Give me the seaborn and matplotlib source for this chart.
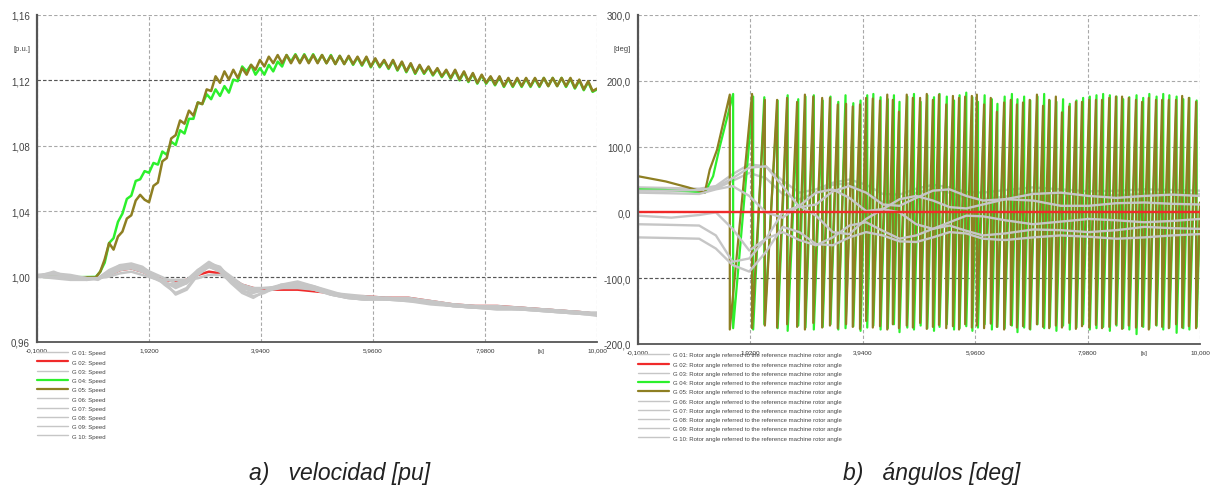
import numpy as np
import matplotlib
matplotlib.use("Agg")
import matplotlib.pyplot as plt
import seaborn as sns
from matplotlib.lines import Line2D

# ---------------- data ----------------

names = ["G 01", "G 02", "G 03", "G 04", "G 05", "G 06", "G 07", "G 08", "G 09", "G 10"]

# speed [p.u.] - slow machines (coarse time grid)
t_grey_speed = [-0.1, 0.2, 0.5, 0.8, 1.0, 1.2, 1.4, 1.6, 1.8, 2.0, 2.2, 2.4, 2.6, 2.8,
                3.0, 3.2, 3.4, 3.6, 3.8, 4.0, 4.3, 4.6, 4.9, 5.2, 5.5, 5.8, 6.2, 6.6,
                7.0, 7.4, 7.8, 8.2, 8.6, 9.0, 9.4, 9.8, 10.0]
speed_g01 = [1.000, 1.003, 0.999, 0.998, 0.999, 1.003, 1.007, 1.008, 1.006, 1.001, 0.995, 0.990,
             0.993, 1.002, 1.008, 1.006, 0.998, 0.991, 0.990, 0.992, 0.995, 0.996, 0.993, 0.989,
             0.987, 0.987, 0.987, 0.986, 0.984, 0.982, 0.981, 0.981, 0.981, 0.980, 0.979, 0.978, 0.977]
speed_g02 = [1.000, 1.000, 0.999, 0.999, 0.999, 1.001, 1.004, 1.005, 1.003, 1.000, 0.998, 0.997,
             0.998, 1.001, 1.003, 1.002, 0.999, 0.995, 0.993, 0.992, 0.992, 0.992, 0.991, 0.990,
             0.988, 0.988, 0.987, 0.987, 0.985, 0.983, 0.982, 0.982, 0.981, 0.980, 0.979, 0.978, 0.977]
speed_g03 = [1.000, 1.001, 1.000, 0.999, 0.998, 1.002, 1.006, 1.007, 1.004, 0.999, 0.996, 0.995,
             0.997, 1.003, 1.006, 1.004, 0.999, 0.994, 0.992, 0.993, 0.994, 0.995, 0.993, 0.990,
             0.988, 0.987, 0.986, 0.986, 0.984, 0.983, 0.981, 0.980, 0.980, 0.979, 0.978, 0.977, 0.977]
speed_g06 = [1.000, 1.000, 0.999, 0.999, 0.999, 1.000, 1.002, 1.003, 1.001, 0.999, 0.998, 0.998,
             0.998, 0.999, 1.001, 1.001, 0.998, 0.995, 0.993, 0.993, 0.993, 0.993, 0.992, 0.990,
             0.989, 0.988, 0.987, 0.986, 0.985, 0.983, 0.982, 0.981, 0.980, 0.980, 0.979, 0.978, 0.977]
speed_g07 = [1.001, 1.002, 1.000, 0.999, 0.999, 1.004, 1.007, 1.006, 1.003, 1.001, 0.997, 0.993,
             0.996, 1.004, 1.009, 1.005, 0.997, 0.992, 0.988, 0.990, 0.995, 0.997, 0.994, 0.990,
             0.987, 0.986, 0.987, 0.987, 0.985, 0.983, 0.982, 0.982, 0.981, 0.980, 0.979, 0.978, 0.977]
speed_g08 = [1.000, 0.999, 0.998, 0.998, 0.999, 1.002, 1.005, 1.006, 1.004, 1.000, 0.996, 0.994,
             0.996, 1.002, 1.006, 1.004, 0.998, 0.993, 0.991, 0.991, 0.993, 0.994, 0.992, 0.989,
             0.987, 0.986, 0.986, 0.985, 0.983, 0.982, 0.981, 0.980, 0.980, 0.979, 0.978, 0.977, 0.976]
speed_g09 = [1.000, 1.002, 1.001, 0.999, 0.999, 1.003, 1.006, 1.007, 1.005, 1.002, 0.999, 0.996,
             0.998, 1.004, 1.007, 1.005, 1.000, 0.995, 0.992, 0.991, 0.994, 0.996, 0.994, 0.991,
             0.988, 0.987, 0.987, 0.986, 0.984, 0.982, 0.981, 0.981, 0.981, 0.980, 0.979, 0.978, 0.978]
speed_g10 = [1.000, 1.000, 1.000, 0.999, 0.999, 1.001, 1.004, 1.005, 1.003, 1.000, 0.997, 0.989,
             0.992, 1.001, 1.006, 1.003, 0.996, 0.990, 0.987, 0.991, 0.994, 0.995, 0.992, 0.989,
             0.987, 0.986, 0.986, 0.985, 0.984, 0.982, 0.981, 0.981, 0.980, 0.979, 0.978, 0.977, 0.977]

# speed [p.u.] - the two machines that lose step (sampled every 0.08 s from 1.04 s)
t_fast_pre = [-0.1, 0.4, 0.96]
speed_g04_pre = [1.000, 0.9995, 0.9998]
speed_g05_pre = [1.000, 0.9995, 0.9995]
speed_g04 = [1.0030, 1.0085, 1.0205, 1.0235, 1.0335, 1.0385, 1.0475, 1.0495, 1.0585, 1.0595,
             1.0645, 1.0635, 1.0695, 1.0685, 1.0765, 1.0745, 1.0825, 1.0805, 1.0895, 1.0875,
             1.0965, 1.0965, 1.1065, 1.1055, 1.1115, 1.1085, 1.1145, 1.1105, 1.1165, 1.1125,
             1.1205, 1.1195, 1.1285, 1.1255, 1.1295, 1.1235, 1.1275, 1.1235, 1.1295, 1.1255,
             1.1315, 1.1285, 1.1355, 1.1315, 1.1360, 1.1310, 1.1360, 1.1310, 1.1360, 1.1310,
             1.1355, 1.1305, 1.1355, 1.1300, 1.1350, 1.1300, 1.1345, 1.1295, 1.1340, 1.1290,
             1.1340, 1.1280, 1.1330, 1.1280, 1.1320, 1.1270, 1.1320, 1.1260, 1.1310, 1.1250,
             1.1300, 1.1240, 1.1290, 1.1240, 1.1280, 1.1230, 1.1270, 1.1220, 1.1260, 1.1210,
             1.1260, 1.1200, 1.1250, 1.1190, 1.1240, 1.1180, 1.1230, 1.1180, 1.1220, 1.1170,
             1.1220, 1.1160, 1.1210, 1.1160, 1.1210, 1.1160, 1.1210, 1.1160, 1.1210, 1.1160,
             1.1215, 1.1165, 1.1215, 1.1165, 1.1215, 1.1160, 1.1210, 1.1150, 1.1200, 1.1140,
             1.1190, 1.1130, 1.1145]
speed_g05 = [1.0030, 1.0105, 1.0205, 1.0165, 1.0245, 1.0275, 1.0355, 1.0375, 1.0465, 1.0500,
             1.0470, 1.0455, 1.0555, 1.0575, 1.0705, 1.0725, 1.0845, 1.0865, 1.0955, 1.0935,
             1.1015, 1.0985, 1.1065, 1.1055, 1.1145, 1.1135, 1.1225, 1.1185, 1.1255, 1.1205,
             1.1265, 1.1215, 1.1275, 1.1235, 1.1295, 1.1265, 1.1325, 1.1285, 1.1345, 1.1305,
             1.1355, 1.1305, 1.1355, 1.1305, 1.1355, 1.1305, 1.1355, 1.1305, 1.1355, 1.1305,
             1.1355, 1.1305, 1.1350, 1.1300, 1.1350, 1.1300, 1.1350, 1.1300, 1.1345, 1.1295,
             1.1345, 1.1285, 1.1335, 1.1285, 1.1325, 1.1275, 1.1325, 1.1265, 1.1315, 1.1255,
             1.1305, 1.1245, 1.1295, 1.1245, 1.1285, 1.1235, 1.1275, 1.1225, 1.1265, 1.1215,
             1.1265, 1.1205, 1.1255, 1.1195, 1.1245, 1.1185, 1.1235, 1.1185, 1.1225, 1.1175,
             1.1225, 1.1165, 1.1215, 1.1165, 1.1215, 1.1165, 1.1215, 1.1165, 1.1215, 1.1165,
             1.1215, 1.1165, 1.1215, 1.1165, 1.1215, 1.1165, 1.1215, 1.1155, 1.1205, 1.1145,
             1.1195, 1.1135, 1.1150]

# rotor angle [deg] - slow machines
t_grey_angle = [-0.1, 0.5, 1.0, 1.3, 1.6, 1.9, 2.2, 2.5, 2.8, 3.1, 3.4, 3.7, 4.0, 4.3,
                4.6, 4.9, 5.2, 5.5, 5.8, 6.1, 6.5, 7.0, 7.5, 8.0, 8.5, 9.0, 9.5, 10.0]
angle_g01 = [38, 37, 36, 40, 58, 73, 70, 48, 30, 35, 45, 50, 42, 28,
             27, 36, 42, 38, 31, 30, 34, 38, 35, 32, 33, 35, 34, 33]
angle_g02 = [0] * 28
angle_g03 = [35, 34, 33, 36, 48, 60, 52, 28, 20, 30, 42, 44, 30, 16,
             18, 30, 35, 30, 22, 20, 24, 30, 28, 25, 26, 28, 28, 28]
angle_g06 = [30, 29, 28, 35, 40, 25, 0, -8, 10, 30, 35, 22, 2, 5,
             20, 25, 18, 8, 6, 12, 20, 18, 10, 10, 14, 15, 13, 12]
angle_g07 = [-5, -8, -4, 0, -25, -58, -40, 0, 10, -5, -30, -33, -10, 5,
             0, -18, -25, -15, -5, -6, -12, -18, -14, -10, -12, -15, -13, -10]
angle_g08 = [-18, -19, -20, -35, -75, -70, -40, -30, -42, -50, -38, -20, -15, -28,
             -40, -35, -25, -20, -28, -35, -32, -26, -27, -30, -27, -22, -24, -25]
angle_g09 = [-38, -39, -40, -55, -80, -90, -60, -22, -30, -48, -50, -38, -30, -35,
             -44, -45, -38, -30, -32, -40, -42, -38, -35, -37, -40, -38, -35, -33]
angle_g10 = [33, 33, 34, 38, 52, 68, 70, 40, 8, 12, 32, 40, 30, 12,
             10, 22, 33, 35, 25, 18, 20, 28, 30, 25, 22, 25, 27, 25]

# rotor angle [deg] - pole slipping machines: start, wrap times, peak / trough at each wrap
g04_pre_t = [-0.1, 0.4, 0.8, 1.1, 1.25, 1.37]
g04_pre_v = [35, 34, 32, 30, 55, 100]
g04_wraps = [1.61, 1.97, 2.17, 2.41, 2.59, 2.78, 2.91, 3.06, 3.22, 3.36,
             3.50, 3.63, 3.77, 3.90, 4.02, 4.13, 4.26, 4.39, 4.50, 4.60,
             4.74, 4.86, 4.98, 5.10, 5.22, 5.32, 5.45, 5.58, 5.68, 5.80,
             5.91, 6.01, 6.13, 6.26, 6.36, 6.49, 6.62, 6.72, 6.84, 6.95,
             7.08, 7.20, 7.30, 7.42, 7.54, 7.66, 7.78, 7.90, 8.02, 8.14,
             8.26, 8.38, 8.50, 8.62, 8.73, 8.86, 8.98, 9.09, 9.22, 9.34,
             9.45, 9.58, 9.70, 9.81, 9.94]
g04_tops = [180, 176, 175, 170, 178, 172, 176, 178, 170, 176,
            168, 178, 166, 170, 178, 180, 175, 172, 178, 168,
            176, 180, 168, 178, 175, 180, 176, 170, 178, 182,
            175, 168, 178, 172, 165, 176, 180, 172, 176, 170,
            176, 180, 170, 168, 172, 165, 170, 174, 176, 178,
            180, 178, 176, 172, 175, 178, 174, 180, 176, 180,
            178, 176, 172, 174, 170]
g04_bottoms = [-176, -178, -170, -176, -180, -172, -175, -178, -174, -170,
               -178, -176, -173, -180, -175, -172, -178, -176, -170, -182,
               -175, -178, -172, -176, -180, -174, -170, -178, -176, -173,
               -180, -175, -170, -178, -174, -176, -172, -182, -175, -178,
               -170, -176, -174, -180, -172, -178, -175, -170, -178, -176,
               -174, -180, -172, -176, -178, -185, -174, -176, -172, -178,
               -175, -183, -176, -178, -174]
g04_end = 5

g05_pre_t = [-0.1, 0.4, 0.8, 1.1, 1.19, 1.32]
g05_pre_v = [55, 47, 38, 30, 65, 95]
g05_wraps = [1.55, 1.95, 2.18, 2.40, 2.58, 2.76, 2.90, 3.05, 3.21, 3.35,
             3.49, 3.64, 3.76, 3.89, 4.00, 4.12, 4.25, 4.38, 4.48, 4.59,
             4.73, 4.84, 4.97, 5.09, 5.20, 5.31, 5.44, 5.56, 5.67, 5.78,
             5.90, 5.99, 6.12, 6.24, 6.35, 6.48, 6.60, 6.71, 6.82, 6.94,
             7.07, 7.18, 7.29, 7.41, 7.52, 7.65, 7.77, 7.88, 8.01, 8.13,
             8.24, 8.37, 8.49, 8.60, 8.72, 8.85, 8.96, 9.08, 9.21, 9.32,
             9.44, 9.57, 9.68, 9.80, 9.93]
g05_tops = [179, 180, 171, 171, 174, 168, 179, 176, 174, 174,
            164, 165, 161, 164, 174, 173, 170, 179, 171, 153,
            179, 174, 174, 180, 171, 179, 164, 177, 174, 176,
            177, 179, 164, 174, 153, 167, 171, 164, 167, 171,
            179, 162, 171, 176, 152, 161, 168, 168, 171, 171,
            171, 174, 176, 176, 174, 171, 168, 174, 171, 171,
            171, 171, 177, 174, 168]
g05_bottoms = [-178, -176, -172, -175, -170, -174, -178, -168, -175, -172,
               -176, -170, -174, -177, -165, -175, -173, -178, -170, -176,
               -172, -175, -168, -177, -174, -171, -176, -173, -178, -170,
               -175, -172, -176, -169, -174, -178, -171, -175, -173, -177,
               -170, -174, -176, -172, -175, -168, -177, -173, -175, -171,
               -176, -174, -170, -177, -172, -175, -173, -178, -171, -174,
               -176, -170, -175, -173, -176]
g05_end = 15

x_major = [-0.1, 1.92, 3.94, 5.96, 7.98, 10.0]
x_major_labels = ["-0,1000", "1,9200", "3,9400", "5,9600", "7,9800", "10,000"]
x_minor = [0.91, 2.93, 4.95, 6.97, 8.99]

speed_ticks = [0.96, 1.00, 1.04, 1.08, 1.12, 1.16]
speed_tick_labels = ["0,96", "1,00", "1,04", "1,08", "1,12", "1,16"]
angle_ticks = [-200, -100, 0, 100, 200, 300]
angle_tick_labels = ["-200,0", "-100,0", "0,0", "100,0", "200,0", "300,0"]

# ---------------- styling ----------------
GREY = "#c6c6c6"
RED = "#f02a2a"
GREEN = "#2cf02c"
OLIVE = "#8e7f22"
colors = [GREY, RED, GREY, GREEN, OLIVE, GREY, GREY, GREY, GREY, GREY]
legend_lw = [1.0, 1.6, 1.0, 1.6, 1.6, 1.0, 1.0, 1.0, 1.0, 1.0]

sns.set_theme(style="white")
plt.rcParams["font.family"] = ["Liberation Sans", "DejaVu Sans"]


def sawtooth(pre_t, pre_v, wraps, tops, bottoms, end_v):
    t, v = list(pre_t), list(pre_v)
    for w, hi, lo in zip(wraps, tops, bottoms):
        t += [w, w]
        v += [hi, lo]
    t.append(10.0)
    v.append(end_v)
    return t, v


def style_axes(ax, yticks, ylabels, yminor, yunit, ylim, dark_rows):
    ax.set_xlim(-0.1, 10.0)
    ax.set_ylim(*ylim)
    ax.set_xticks(x_major, x_major_labels)
    ax.set_xticks(x_minor, ["", "", "", "", "[s]"], minor=True)
    ax.set_yticks(yticks, ylabels)
    ax.set_yticks(yminor, [""] * (len(yminor) - 1) + [yunit], minor=True)
    ax.tick_params(axis="x", which="both", direction="in", length=3, labelsize=4.6,
                   color="#666", labelcolor="#333", pad=4)
    ax.tick_params(axis="y", which="major", direction="in", length=3, labelsize=7,
                   color="#666", labelcolor="#444", pad=5)
    ax.tick_params(axis="y", which="minor", direction="in", length=3, labelsize=5.5,
                   color="#666", labelcolor="#444", pad=5)
    ax.grid(True, which="major", color="#a8a8a8", lw=0.8, ls=(0, (3, 2)))
    for y in dark_rows:
        ax.axhline(y, color="#555555", lw=0.8, ls=(0, (3, 2)), zorder=0.9)
    for side in ["top", "right"]:
        ax.spines[side].set_visible(False)
    ax.spines["left"].set_color("#555555")
    ax.spines["left"].set_linewidth(1.6)
    ax.spines["bottom"].set_color("#555555")
    ax.spines["bottom"].set_linewidth(1.3)
    ax.set_xlabel("")
    ax.set_ylabel("")


def add_legend(ax, suffix):
    handles = [Line2D([], [], color=c, lw=w) for c, w in zip(colors, legend_lw)]
    labels = [n + suffix for n in names]
    leg = ax.legend(handles, labels, loc="upper left", bbox_to_anchor=(0.0, -0.025),
                    frameon=False, fontsize=4.3, handlelength=5.2, handletextpad=0.7,
                    labelspacing=0.68, borderpad=0, borderaxespad=0)
    for txt in leg.get_texts():
        txt.set_color("#444")


fig = plt.figure(figsize=(12.18, 4.89), dpi=100)
ax1 = fig.add_axes([0.0304, 0.2986, 0.4598, 0.6687])
ax2 = fig.add_axes([0.5238, 0.2945, 0.4614, 0.6728])

# ---------------- a) speed ----------------
grey_speed = {"G 01": speed_g01, "G 02": speed_g02, "G 03": speed_g03, "G 06": speed_g06,
              "G 07": speed_g07, "G 08": speed_g08, "G 09": speed_g09, "G 10": speed_g10}
t_fast = list(t_fast_pre) + list(np.linspace(1.04, 10.0, len(speed_g05)))
fast_speed = {"G 04": list(speed_g04_pre) + speed_g04, "G 05": list(speed_g05_pre) + speed_g05}

for name, col in zip(names, colors):
    if name in grey_speed:
        x, y = t_grey_speed, grey_speed[name]
    else:
        x, y = t_fast, fast_speed[name]
    sns.lineplot(x=x, y=y, ax=ax1, color=col, lw=1.8, sort=False, estimator=None,
                 legend=False, solid_joinstyle="round")

style_axes(ax1, speed_ticks, speed_tick_labels,
           [0.98, 1.02, 1.06, 1.10, 1.14], "[p.u.]", (0.96, 1.16), [1.00, 1.12])
add_legend(ax1, ": Speed")

# ---------------- b) rotor angle ----------------
grey_angle = {"G 01": angle_g01, "G 02": angle_g02, "G 03": angle_g03, "G 06": angle_g06,
              "G 07": angle_g07, "G 08": angle_g08, "G 09": angle_g09, "G 10": angle_g10}
saw = {"G 04": sawtooth(g04_pre_t, g04_pre_v, g04_wraps, g04_tops, g04_bottoms, g04_end),
       "G 05": sawtooth(g05_pre_t, g05_pre_v, g05_wraps, g05_tops, g05_bottoms, g05_end)}

for name, col in zip(names, colors):
    if name in grey_angle:
        x, y = t_grey_angle, grey_angle[name]
        lw = 1.7
    else:
        x, y = saw[name]
        lw = 1.6
    sns.lineplot(x=x, y=y, ax=ax2, color=col, lw=lw, sort=False, estimator=None,
                 legend=False)
# reference machine line sits above the slipping machines
ax2.lines[1].set_zorder(2.5)

style_axes(ax2, angle_ticks, angle_tick_labels,
           [-150, -50, 50, 150, 250], "[deg]", (-200, 300), [-100])
add_legend(ax2, ": Rotor angle referred to the reference machine rotor angle")

fig.text(0.279, 0.018, "a)   velocidad [pu]", ha="center", va="baseline",
         fontsize=16.5, style="italic", color="#222")
fig.text(0.765, 0.018, "b)   ángulos [deg]", ha="center", va="baseline",
         fontsize=16.5, style="italic", color="#222")

fig.savefig("out.png", dpi=100)
